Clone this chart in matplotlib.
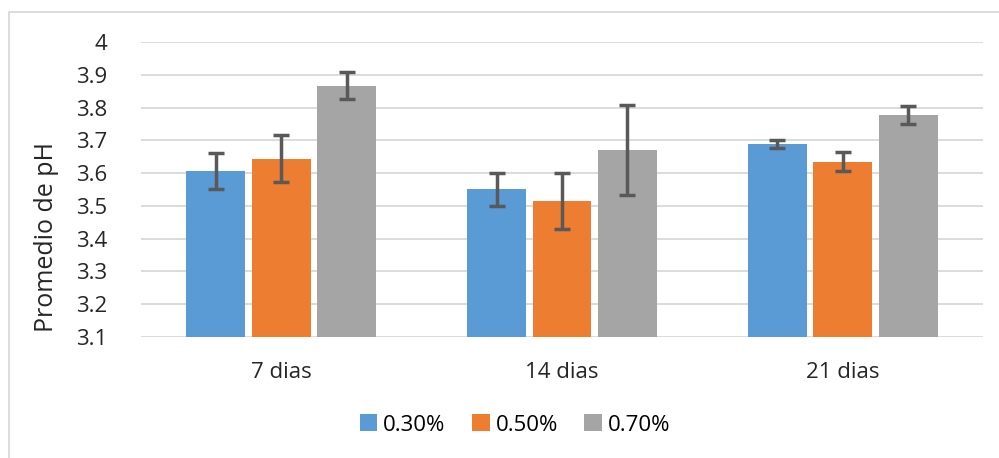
import numpy as np
import matplotlib.pyplot as plt
from matplotlib.lines import Line2D

plt.rcParams['font.family'] = ['Open Sans', 'DejaVu Sans']

categories = ['7 dias', '14 dias', '21 dias']
series = ['0.30%', '0.50%', '0.70%']
means = [
    [3.607, 3.551, 3.688],   # 0.30%
    [3.644, 3.515, 3.635],   # 0.50%
    [3.867, 3.670, 3.777],   # 0.70%
]
errors = [
    [0.055, 0.050, 0.012],
    [0.071, 0.086, 0.029],
    [0.040, 0.138, 0.027],
]
colors = ['#5B9BD5', '#ED7D31', '#A5A5A5']

W, H = 999, 458
fig = plt.figure(figsize=(W / 100, H / 100), dpi=100)
ax = fig.add_axes([141 / W, (H - 337) / H, (983 - 141) / W, (337 - 42) / H])

x = np.arange(len(categories))
width = 0.21
step = 0.233
for i, s in enumerate(series):
    ax.bar(x + (i - 1) * step, means[i], width, color=colors[i], label=s, zorder=2,
           yerr=errors[i], ecolor='#595959',
           error_kw=dict(elinewidth=2.5, capsize=6, capthick=2.5, zorder=3))

ax.set_xlim(-0.5, 2.5)
ax.set_ylim(3.1, 4.0)
ax.set_yticks(np.arange(3.1, 4.01, 0.1))
ax.set_yticklabels(['3.1', '3.2', '3.3', '3.4', '3.5', '3.6', '3.7', '3.8', '3.9', '4'])
ax.set_xticks(x)
ax.set_xticklabels(categories)
ax.tick_params(length=0, labelsize=16, colors='#262626')
ax.tick_params(axis='y', pad=24)
ax.tick_params(axis='x', pad=18)
ax.grid(axis='y', color='#D9D9D9', linewidth=1.3, zorder=0)
ax.set_axisbelow(True)
for sp in ax.spines.values():
    sp.set_visible(False)
ax.set_ylabel('Promedio de pH', fontsize=18, color='#262626')
ax.yaxis.set_label_coords((59 - 141) / 842, (337 - 237) / 295)

ax.legend(loc='center', bbox_to_anchor=(515 / W, (H - 425) / H),
          bbox_transform=fig.transFigure, ncol=3, frameon=False, fontsize=16,
          handlelength=0.8, handleheight=0.8, handletextpad=0.25, columnspacing=1.2)

# outer chart border
fig.add_artist(Line2D([9 / W, 9 / W, 1.0], [0.0, (H - 12) / H, (H - 12) / H],
                      transform=fig.transFigure, color='#D9D9D9', linewidth=1.3))

fig.savefig('out.png', dpi=100)
